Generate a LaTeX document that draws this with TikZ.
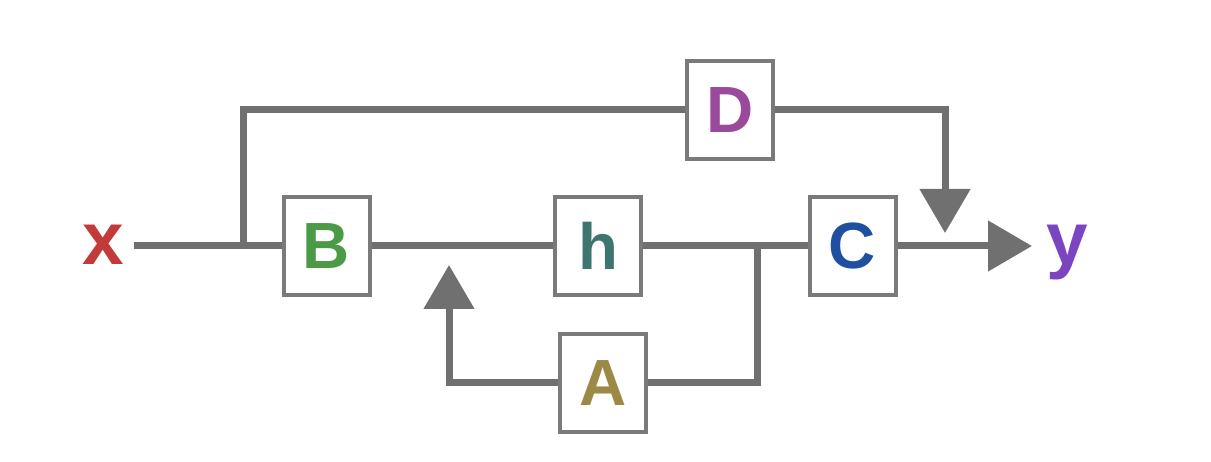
\documentclass[tikz,border=0pt]{standalone}
\usepackage{fontspec}
\setmainfont{Liberation Sans}
\usetikzlibrary{arrows.meta,backgrounds}
\def\px{.75pt}
\def\wirec{wire}
\def\boxwd{64.5pt}
\def\boxht{73pt}
\def\mainy{215}
\definecolor{wire}{HTML}{707070}
\definecolor{frame}{HTML}{7A7A7A}
\definecolor{xcol}{HTML}{C23B3A}
\definecolor{bcol}{HTML}{4A9A48}
\definecolor{hcol}{HTML}{3F7570}
\definecolor{ccol}{HTML}{1F4FA0}
\definecolor{dcol}{HTML}{9B4A9B}
\definecolor{acol}{HTML}{9A8A45}
\definecolor{ycol}{HTML}{7B44C0}
\tikzset{
  blk/.style={draw=frame, line width=3pt, fill=white, minimum width=\boxwd,
    minimum height=\boxht, inner sep=0pt,
    font=\fontsize{49}{50}\selectfont\bfseries},
  sig/.style={inner sep=0pt, anchor=base, font=\fontsize{56}{57}\selectfont\bfseries},
  wire/.style={draw=\wirec, line width=5.25pt},
  tip/.style={wire, -{Triangle[width=37pt,length=33pt]}}
}
\begin{document}
\begin{tikzpicture} [x=\px, y=\px]
\useasboundingbox (0,0) rectangle (1211,461);
% signals
\node [sig, text=xcol] (x) at (103,196) {x};
\node [sig, text=ycol] (y) at (1067,196) {y};
% blocks
\node [blk, text=bcol] (B) at (326.5,\mainy) {B};
\node [blk, text=hcol] (h) at (598,\mainy) {h};
\node [blk, text=ccol] (C) at (852.5,\mainy) {C};
\node [blk, text=dcol] (D) at (730,351) {D};
\node [blk, text=acol] (A) at (603,78) {A};
% branch points
\coordinate (in) at (134,\mainy);
\coordinate (split) at (243,\mainy);
\coordinate (join) at (757,\mainy);
\coordinate (out) at (1032,\mainy);
\coordinate (dtip) at (945,228);
\coordinate (atip) at (449,196);
\begin{pgfonlayer}{background}
  \draw [wire] (in) -- (B);
  \draw [wire] (B) -- (h);
  \draw [wire] (h) -- (C);
  \draw [tip] (C) -- (out);
  \draw [wire] (split) |- (D);
  \draw [tip] (D) -| (dtip);
  \draw [wire] (join) |- (A);
  \draw [tip] (A) -| (atip);
\end{pgfonlayer}
\end{tikzpicture}
\end{document}
